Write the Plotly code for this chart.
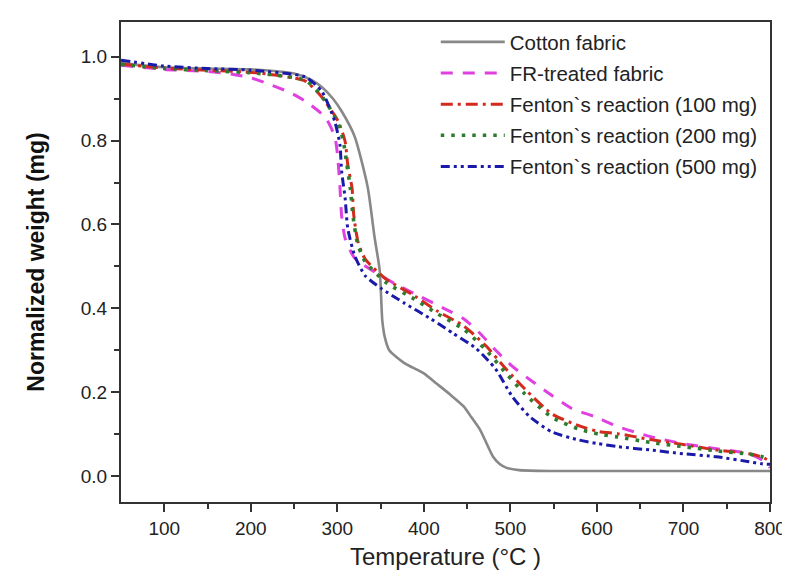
import plotly.graph_objects as go

# Temperature (°C) and normalized weight values
cotton_T = [50, 100, 150, 200, 250, 270, 282, 295, 305, 320, 335, 343, 349, 352, 355, 360, 377, 400, 415, 430, 446, 455, 465, 472, 480, 488, 495, 510, 548, 650, 800]
cotton_W = [0.985, 0.975, 0.972, 0.970, 0.960, 0.945, 0.928, 0.900, 0.870, 0.810, 0.690, 0.570, 0.490, 0.370, 0.330, 0.300, 0.270, 0.245, 0.220, 0.195, 0.166, 0.140, 0.110, 0.080, 0.046, 0.028, 0.020, 0.014, 0.012, 0.012, 0.012]

fr_T = [50, 100, 150, 180, 200, 218, 244, 263, 286, 297, 300, 303, 305, 309, 320, 346, 369, 396, 423, 446, 465, 483, 502, 525, 548, 571, 597, 624, 662, 700, 738, 776, 791, 797, 800]
fr_W = [0.980, 0.970, 0.965, 0.958, 0.950, 0.937, 0.916, 0.894, 0.856, 0.810, 0.770, 0.690, 0.620, 0.567, 0.520, 0.483, 0.456, 0.428, 0.400, 0.375, 0.340, 0.300, 0.262, 0.226, 0.192, 0.161, 0.142, 0.118, 0.094, 0.077, 0.065, 0.053, 0.038, 0.026, 0.020]

r100_T = [50, 100, 150, 206, 263, 282, 301, 309, 312, 317, 319, 324, 332, 356, 389, 415, 446, 472, 495, 517, 548, 579, 602, 624, 662, 700, 738, 776, 791, 800]
r100_W = [0.983, 0.973, 0.968, 0.962, 0.942, 0.904, 0.846, 0.798, 0.743, 0.687, 0.622, 0.558, 0.518, 0.470, 0.430, 0.394, 0.358, 0.310, 0.255, 0.207, 0.148, 0.120, 0.106, 0.101, 0.087, 0.075, 0.062, 0.053, 0.045, 0.035]

r200_T = [50, 100, 150, 206, 263, 282, 300, 307, 311, 315, 318, 323, 331, 356, 389, 415, 446, 472, 495, 517, 548, 579, 602, 624, 662, 700, 738, 776, 791, 800]
r200_W = [0.982, 0.972, 0.967, 0.961, 0.944, 0.906, 0.846, 0.798, 0.743, 0.687, 0.622, 0.558, 0.515, 0.462, 0.422, 0.388, 0.350, 0.300, 0.245, 0.195, 0.140, 0.112, 0.100, 0.093, 0.080, 0.070, 0.060, 0.052, 0.046, 0.040]

r500_T = [50, 100, 150, 200, 263, 282, 297, 303, 305, 309, 312, 320, 332, 351, 377, 408, 434, 460, 483, 502, 522, 548, 579, 602, 624, 662, 700, 738, 776, 791, 800]
r500_W = [0.992, 0.978, 0.972, 0.968, 0.952, 0.918, 0.846, 0.790, 0.726, 0.663, 0.591, 0.526, 0.478, 0.447, 0.413, 0.375, 0.340, 0.305, 0.255, 0.190, 0.142, 0.105, 0.086, 0.077, 0.070, 0.062, 0.053, 0.046, 0.034, 0.029, 0.028]

names = ["Cotton fabric", "FR-treated fabric", "Fenton`s reaction (100 mg)",
         "Fenton`s reaction (200 mg)", "Fenton`s reaction (500 mg)"]
x_ticks = [100, 200, 300, 400, 500, 600, 700, 800]
y_ticks = [0.0, 0.2, 0.4, 0.6, 0.8, 1.0]

series = [
    (cotton_T, cotton_W, "#888888", "solid", 2.6),
    (fr_T, fr_W, "#E040E0", "12px,10px", 3),
    (r100_T, r100_W, "#D42A1E", "12px,5px,3px,5px", 3),
    (r200_T, r200_W, "#2E7D2E", "3.5px,7px", 3.6),
    (r500_T, r500_W, "#1A1AAA", "9px,4px,3px,4px,3px,4px", 3),
]

fig = go.Figure()
for i, (xs, ys, col, dash, w) in enumerate(series):
    fig.add_trace(go.Scatter(
        x=xs, y=ys, mode="lines", name=names[i], legendgroup=f"g{i}",
        line=dict(color=col, dash=dash, width=w, shape="spline", smoothing=0.6),
    ))

font_family = "Arial, Liberation Sans, sans-serif"
fig.update_layout(
    width=790, height=575,
    paper_bgcolor="white", plot_bgcolor="white",
    margin=dict(l=113, r=23, t=13, b=81),
    font=dict(family=font_family, color="#222222"),
    showlegend=True,
    legend=dict(
        x=0.485, y=1.0, xanchor="left", yanchor="top",
        bgcolor="rgba(0,0,0,0)", borderwidth=0,
        font=dict(size=20.5, family=font_family, color="#222222"),
        itemwidth=64, tracegroupgap=1.5,
    ),
    xaxis=dict(
        range=[50, 800], tickvals=x_ticks, ticktext=[str(v) for v in x_ticks],
        showgrid=False, zeroline=False,
        showline=True, linecolor="#333333", linewidth=2, mirror=True,
        ticks="outside", ticklen=8, tickwidth=1.5, tickcolor="#333333",
        minor=dict(tickvals=[150, 250, 350, 450, 550, 650, 750], ticks="outside", ticklen=5, tickwidth=1.5, tickcolor="#333333"),
        tickfont=dict(size=19, color="#222222"),
        title=dict(text="Temperature (°C )", font=dict(size=24, color="#222222"), standoff=10),
    ),
    yaxis=dict(
        range=[-0.062, 1.083], tickvals=y_ticks, ticktext=[f"{v:.1f}" for v in y_ticks],
        showgrid=False, zeroline=False,
        showline=True, linecolor="#333333", linewidth=2, mirror=True,
        ticks="outside", ticklen=8, tickwidth=1.5, tickcolor="#333333",
        minor=dict(tickvals=[0.1, 0.3, 0.5, 0.7, 0.9], ticks="outside", ticklen=5, tickwidth=1.5, tickcolor="#333333"),
        tickfont=dict(size=19, color="#222222"),
        title=dict(text="<b>Normalized weight (mg)</b>", font=dict(size=23, color="#111111"), standoff=30),
    ),
)

fig.write_html("out.html")
